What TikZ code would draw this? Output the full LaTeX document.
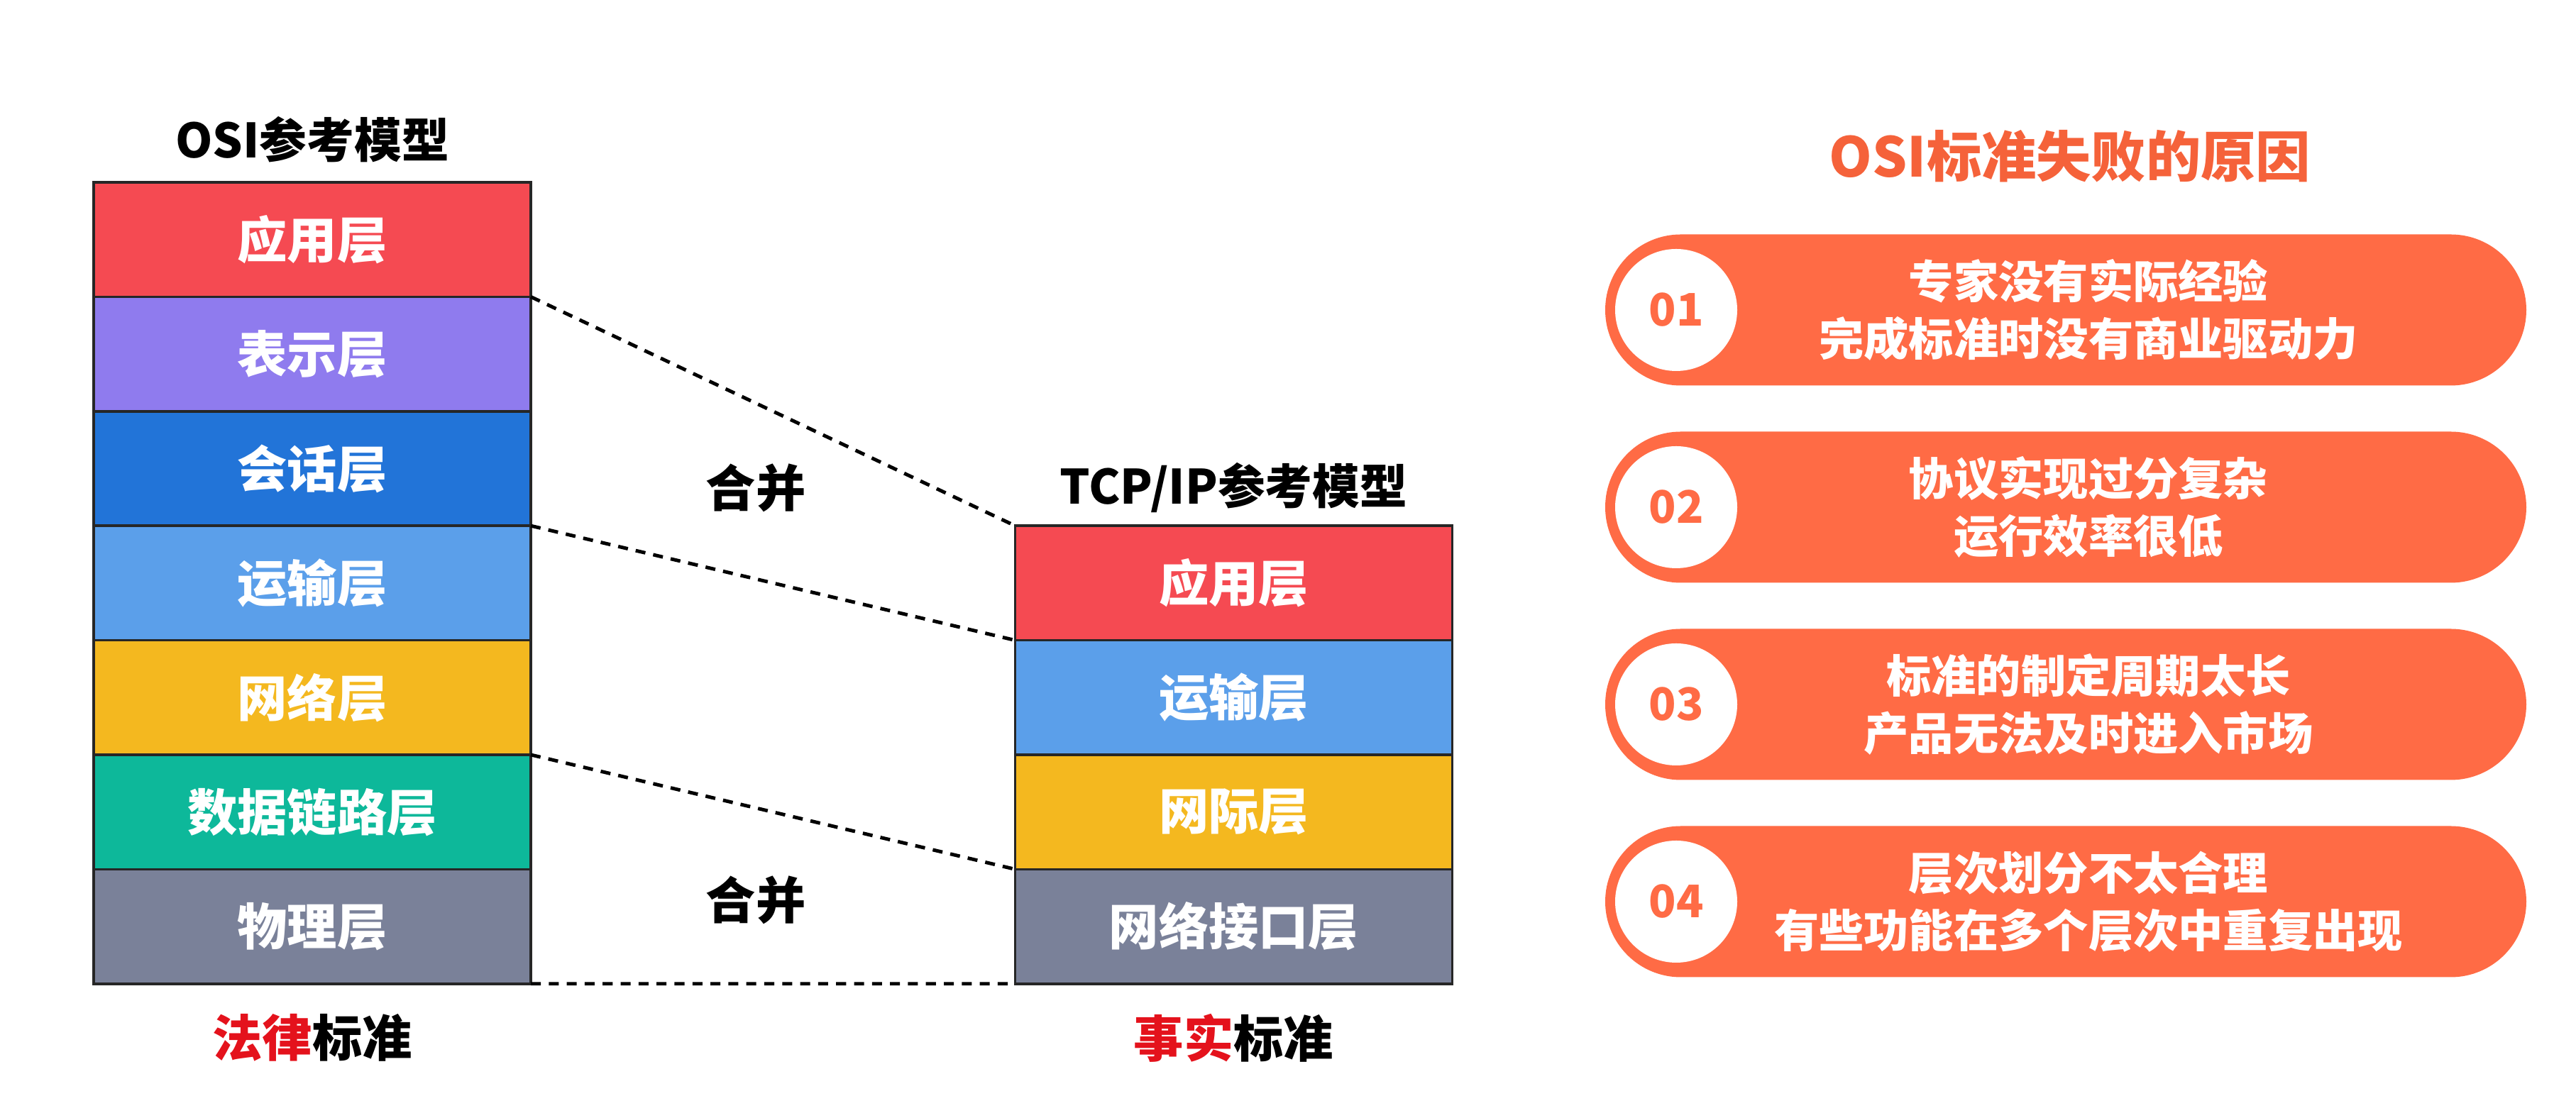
\documentclass[tikz,border=0pt]{standalone}
\usepackage{fontspec}
\setmainfont{Noto Sans CJK SC}
\usetikzlibrary{positioning}
\definecolor{appred}{RGB}{245,74,82}
\definecolor{prespurple}{RGB}{143,123,238}
\definecolor{sessblue}{RGB}{34,116,216}
\definecolor{transblue}{RGB}{91,159,234}
\definecolor{netyellow}{RGB}{244,184,31}
\definecolor{linkteal}{RGB}{13,184,154}
\definecolor{physgray}{RGB}{122,129,153}
\definecolor{pillorange}{RGB}{255,107,69}
\definecolor{headorange}{RGB}{245,98,58}
\definecolor{lawred}{RGB}{228,18,28}

\begin{document}
\begin{tikzpicture}[
  layer/.style={draw=black!85, line width=1pt, minimum width=6.16cm, minimum height=1.614cm, inner sep=0pt, outer sep=0pt, text=white, font=\fontsize{20}{24}\selectfont\bfseries},
  ttl/.style={font=\fontsize{19}{23}\selectfont\bfseries},
  pill/.style={fill=pillorange, rounded corners=1.065cm, minimum width=12.98cm, minimum height=2.13cm, inner sep=0pt},
  num/.style={circle, fill=white, minimum size=1.72cm, inner sep=0pt, text=pillorange, font=\fontsize{18}{22}\selectfont\bfseries},
  why/.style={align=center, text=white, font=\fontsize{18}{23}\selectfont\bfseries},
  merge/.style={line width=1.4pt, dash pattern=on 4pt off 3.2pt},
  node distance=0pt,
]
\useasboundingbox (0,0) rectangle (36.3,15.45);

\node[ttl] (osit) at (4.40,13.48) {OSI参考模型};
\node[layer, fill=appred]     (osi1) at (4.40,12.073) {应用层};
\node[layer, fill=prespurple, below=of osi1] (osi2) {表示层};
\node[layer, fill=sessblue,   below=of osi2] (osi3) {会话层};
\node[layer, fill=transblue,  below=of osi3] (osi4) {运输层};
\node[layer, fill=netyellow,  below=of osi4] (osi5) {网络层};
\node[layer, fill=linkteal,   below=of osi5] (osi6) {数据链路层};
\node[layer, fill=physgray,   below=of osi6] (osi7) {物理层};
\node[ttl, font=\fontsize{20}{24}\selectfont\bfseries] (law) at (4.40,0.82) {\textcolor{lawred}{法律}标准};

\node[ttl] (tcpt) at (17.385,8.57) {TCP/IP参考模型};
\node[layer, fill=appred]    (tcp1) at (17.385,7.231) {应用层};
\node[layer, fill=transblue, below=of tcp1] (tcp2) {运输层};
\node[layer, fill=netyellow, below=of tcp2] (tcp3) {网际层};
\node[layer, fill=physgray,  below=of tcp3] (tcp4) {网络接口层};
\node[ttl, font=\fontsize{20}{24}\selectfont\bfseries] (fact) at (17.385,0.82) {\textcolor{lawred}{事实}标准};

\node[ttl, font=\fontsize{20}{24}\selectfont\bfseries] (mg1) at (10.65,8.57) {合并};
\node[ttl, font=\fontsize{20}{24}\selectfont\bfseries] (mg2) at (10.65,2.76) {合并};

\draw[merge] (osi1.south east) -- (tcp1.north west);
\draw[merge] (osi3.south east) -- (tcp1.south west);
\draw[merge] (osi5.south east) -- (tcp3.south west);
\draw[merge] (osi7.south east) -- (tcp4.south west);

\node[ttl, text=headorange, font=\fontsize{22}{26}\selectfont\bfseries] (why) at (29.17,13.25) {OSI标准失败的原因};

\node[pill] (p1) at (29.11,11.08) {};
\node[pill] (p2) at (29.11,8.30) {};
\node[pill] (p3) at (29.11,5.52) {};
\node[pill] (p4) at (29.11,2.74) {};
\node[num] (n1) at (23.62,11.08) {01};
\node[num] (n2) at (23.62,8.30) {02};
\node[num] (n3) at (23.62,5.52) {03};
\node[num] (n4) at (23.62,2.74) {04};
\node[why] (w1) at (29.43,11.08) {专家没有实际经验\\完成标准时没有商业驱动力};
\node[why] (w2) at (29.43,8.30) {协议实现过分复杂\\运行效率很低};
\node[why] (w3) at (29.43,5.52) {标准的制定周期太长\\产品无法及时进入市场};
\node[why] (w4) at (29.43,2.74) {层次划分不太合理\\有些功能在多个层次中重复出现};
\end{tikzpicture}
\end{document}
